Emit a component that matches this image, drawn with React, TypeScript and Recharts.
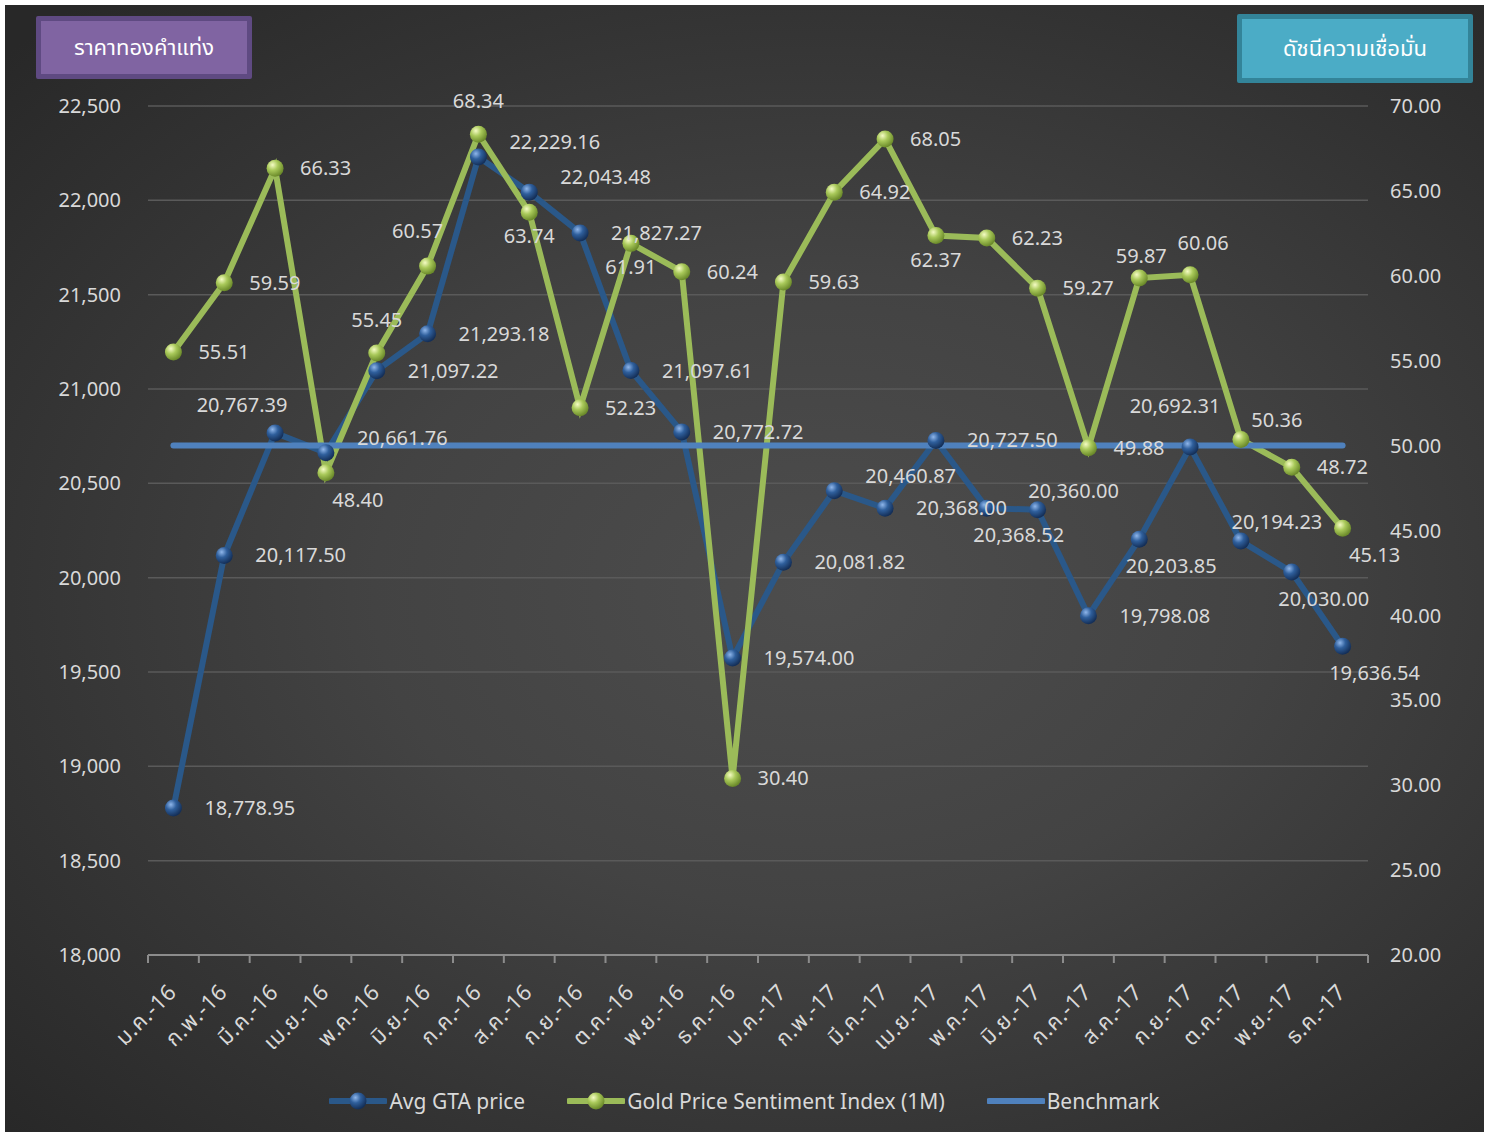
import React from 'react';
import { ComposedChart, Line, XAxis, YAxis, CartesianGrid, LabelList } from 'recharts';

const months = [
  'ม.ค.-16', 'ก.พ.-16', 'มี.ค.-16', 'เม.ย.-16', 'พ.ค.-16', 'มิ.ย.-16',
  'ก.ค.-16', 'ส.ค.-16', 'ก.ย.-16', 'ต.ค.-16', 'พ.ย.-16', 'ธ.ค.-16',
  'ม.ค.-17', 'ก.พ.-17', 'มี.ค.-17', 'เม.ย.-17', 'พ.ค.-17', 'มิ.ย.-17',
  'ก.ค.-17', 'ส.ค.-17', 'ก.ย.-17', 'ต.ค.-17', 'พ.ย.-17', 'ธ.ค.-17',
];
const avgGtaPrice = [
  18778.95, 20117.5, 20767.39, 20661.76, 21097.22, 21293.18,
  22229.16, 22043.48, 21827.27, 21097.61, 20772.72, 19574.0,
  20081.82, 20460.87, 20368.0, 20727.5, 20368.52, 20360.0,
  19798.08, 20203.85, 20692.31, 20194.23, 20030.0, 19636.54,
];
const sentimentIndex = [
  55.51, 59.59, 66.33, 48.4, 55.45, 60.57,
  68.34, 63.74, 52.23, 61.91, 60.24, 30.4,
  59.63, 64.92, 68.05, 62.37, 62.23, 59.27,
  49.88, 59.87, 60.06, 50.36, 48.72, 45.13,
];
const benchmarkValue = 50;
const leftTicks = [18000, 18500, 19000, 19500, 20000, 20500, 21000, 21500, 22000, 22500];
const rightTicks = [20, 25, 30, 35, 40, 45, 50, 55, 60, 65, 70];

// label placement keywords (r = right, ru = right-up, a = above, as = above (close), b = below, ar/br/al/au = diagonals)
const gtaLabelPlace = ['r','r','al','ru','r','r','ru','ru','r','r','r','r','r','ru','r','r','br','ar','r','br','au','ar','br','br'];
const gsiLabelPlace = ['r','r','r','br','a','al2','a','b','r','b','r','r','r','r','r','b','r','r','r','as','ar2','ar','r','br'];

const data = months.map((m, i) => ({
  month: m,
  gta: avgGtaPrice[i],
  gsi: sentimentIndex[i],
  bench: benchmarkValue,
}));

const FONT = '"Noto Sans", "Noto Sans Thai", "Open Sans", sans-serif';
const TXT = '#d9d9d9';

const fmtGta = (v: number) => v.toLocaleString('en-US', { minimumFractionDigits: 2, maximumFractionDigits: 2 });
const fmtGsi = (v: number) => v.toFixed(2);

const PLACE: Record<string, [number, number, string]> = {
  a: [0, -33, 'middle'],
  as: [2, -22, 'middle'],
  al: [-33, -28, 'middle'],
  al2: [-10, -35, 'middle'],
  au: [-15, -41, 'middle'],
  b: [0, 24, 'middle'],
  ar: [36, -19, 'middle'],
  ar2: [13, -32, 'middle'],
  br: [32, 27, 'middle'],
};

function makeLabel(places: string[], fmt: (v: number) => string, rightGap: number) {
  return (props: any) => {
    const { x, y, value, index } = props;
    if (x == null || y == null) return null;
    const p = places[index] || 'r';
    let dx = rightGap, dy = 0, anchor: any = 'start';
    if (p === 'ru') { dy = -15; }
    else if (PLACE[p]) { [dx, dy, anchor] = PLACE[p] as any; }
    return (
      <text key={`l-${index}`} x={x + dx} y={y + dy} dy="0.35em" textAnchor={anchor}
        fill={TXT} fontSize={20} fontFamily={FONT}>
        {fmt(Number(value))}
      </text>
    );
  };
}

const makeDot = (grad: string) => (props: any) => {
  const { cx, cy, index } = props;
  if (cx == null || cy == null) return <g key={`d-${index}`} />;
  return <circle key={`d-${index}`} cx={cx} cy={cy} r={8.5} fill={`url(#${grad})`} />;
};

const XTick = (props: any) => {
  const { x, y, payload, index } = props;
  const off = payload.offset || 0;
  const isLast = index === months.length - 1;
  return (
    <g>
      <line x1={x - off} y1={y} x2={x - off} y2={y + 8} stroke="#8c8c8c" strokeWidth={2} />
      {isLast && <line x1={x + off} y1={y} x2={x + off} y2={y + 8} stroke="#8c8c8c" strokeWidth={2} />}
      <g transform={`translate(${x - 1},${y + 33})`}>
        <text transform="rotate(-45)" textAnchor="end" x={0} y={0} dy="0.35em"
          fill={TXT} fontSize={22} letterSpacing={0.6} fontFamily={FONT}>
          {payload.value}
        </text>
      </g>
    </g>
  );
};

const LegendIcon = ({ color, grad }: { color: string; grad?: string }) => (
  <svg width={58} height={20} style={{ display: 'block' }}>
    <defs>
      <radialGradient id="lgBlue" cx="35%" cy="30%" r="70%">
        <stop offset="0%" stopColor="#8fb6ea" />
        <stop offset="45%" stopColor="#2f5f9c" />
        <stop offset="100%" stopColor="#142f58" />
      </radialGradient>
      <radialGradient id="lgGreen" cx="35%" cy="30%" r="70%">
        <stop offset="0%" stopColor="#f4fbc4" />
        <stop offset="45%" stopColor="#a9c95a" />
        <stop offset="100%" stopColor="#6b8a2a" />
      </radialGradient>
    </defs>
    <line x1={2} y1={10} x2={56} y2={10} stroke={color} strokeWidth={6} strokeLinecap="round" />
    {grad && <circle cx={29} cy={10} r={8.5} fill={`url(#${grad})`} />}
  </svg>
);

export default function App() {
  return (
    <div style={{
      position: 'absolute', left: 5, top: 5, width: 1479, height: 1127,
      background: 'radial-gradient(ellipse 75% 70% at 55% 52%, #4d4d4d 0%, #434343 40%, #333333 75%, #282828 100%)',
      fontFamily: FONT, overflow: 'hidden',
    }}>
      <ComposedChart width={1479} height={1127} data={data}
        margin={{ top: 101, right: 0, bottom: 0, left: 0 }}>
        <defs>
          <radialGradient id="gBlue" cx="35%" cy="30%" r="70%">
            <stop offset="0%" stopColor="#8fb6ea" />
            <stop offset="45%" stopColor="#2f5f9c" />
            <stop offset="100%" stopColor="#142f58" />
          </radialGradient>
          <radialGradient id="gGreen" cx="35%" cy="30%" r="70%">
            <stop offset="0%" stopColor="#f4fbc4" />
            <stop offset="45%" stopColor="#a9c95a" />
            <stop offset="100%" stopColor="#6b8a2a" />
          </radialGradient>
        </defs>
        <CartesianGrid yAxisId="left" vertical={false} stroke="#5a5a5a" strokeWidth={1.5} />
        <XAxis dataKey="month" scale="band" interval={0} tickLine={false} tickSize={0} tickMargin={0}
          axisLine={{ stroke: '#8c8c8c', strokeWidth: 2 }} tick={<XTick />} height={177} />
        <YAxis yAxisId="left" orientation="left" domain={[18000, 22500]} ticks={leftTicks}
          width={143} axisLine={false} tickLine={false} tickSize={0} tickMargin={27}
          interval={0}
          tickFormatter={(v: number) => v.toLocaleString('en-US')}
          tick={{ fill: TXT, fontSize: 20, fontFamily: FONT }} />
        <YAxis yAxisId="right" orientation="right" domain={[20, 70]} ticks={rightTicks}
          width={116} axisLine={false} tickLine={false} tickSize={0} tickMargin={22}
          interval={0}
          tickFormatter={(v: number) => v.toFixed(2)}
          tick={{ fill: TXT, fontSize: 20, fontFamily: FONT }} />
        <Line yAxisId="left" dataKey="gta" name="Avg GTA price" stroke="#2a5889" strokeWidth={6}
          dot={makeDot('gBlue')} activeDot={false} isAnimationActive={false}>
          <LabelList dataKey="gta" content={makeLabel(gtaLabelPlace, fmtGta, 31)} />
        </Line>
        <Line yAxisId="right" dataKey="gsi" name="Gold Price Sentiment Index (1M)" stroke="#9bbb59" strokeWidth={6}
          dot={makeDot('gGreen')} activeDot={false} isAnimationActive={false}>
          <LabelList dataKey="gsi" content={makeLabel(gsiLabelPlace, fmtGsi, 25)} />
        </Line>
        <Line yAxisId="right" dataKey="bench" name="Benchmark" stroke="#4f81bd" strokeWidth={6}
          strokeLinecap="round" dot={false} activeDot={false} isAnimationActive={false} />
      </ComposedChart>

      <div style={{
        position: 'absolute', left: 31, top: 11, width: 216, height: 63, boxSizing: 'border-box',
        background: '#8064a2', border: '5px solid #5f4a82', borderRadius: 2,
        color: '#ffffff', fontSize: 22, display: 'flex', alignItems: 'center', justifyContent: 'center',
      }}>ราคาทองคำแท่ง</div>
      <div style={{
        position: 'absolute', left: 1232, top: 9, width: 236, height: 69, boxSizing: 'border-box',
        background: '#4bacc6', border: '5px solid #338499', borderRadius: 2,
        color: '#ffffff', fontSize: 22, display: 'flex', alignItems: 'center', justifyContent: 'center',
      }}>ดัชนีความเชื่อมั่น</div>

      <div style={{
        position: 'absolute', left: 0, width: 1479, top: 1082, height: 28,
        display: 'flex', justifyContent: 'center', alignItems: 'center', gap: 42,
        color: TXT, fontSize: 21,
      }}>
        <div style={{ display: 'flex', alignItems: 'center', gap: 2 }}>
          <LegendIcon color="#2a5889" grad="lgBlue" /><span>Avg GTA price</span>
        </div>
        <div style={{ display: 'flex', alignItems: 'center', gap: 2 }}>
          <LegendIcon color="#9bbb59" grad="lgGreen" /><span>Gold Price Sentiment Index (1M)</span>
        </div>
        <div style={{ display: 'flex', alignItems: 'center', gap: 2 }}>
          <LegendIcon color="#4f81bd" /><span>Benchmark</span>
        </div>
      </div>
    </div>
  );
}
